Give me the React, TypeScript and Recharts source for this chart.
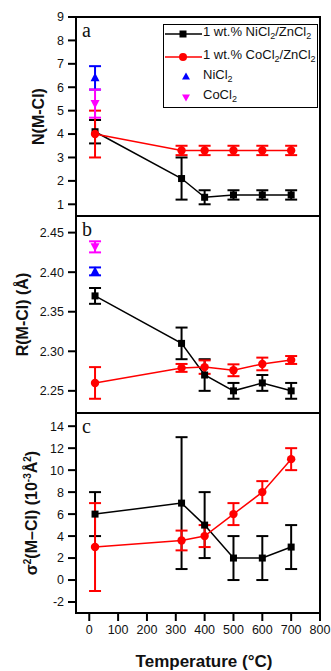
import React from "react";
import {
  ComposedChart,
  Line,
  Scatter,
  XAxis,
  YAxis,
  ErrorBar,
  ReferenceArea,
  Label,
  Legend,
} from "recharts";

// temperatures (°C) of the supported samples, reference salts sit at room temp
const temps = [20, 320, 400, 500, 600, 700];
const refTemp = [20];
const xTicks = [0, 100, 200, 300, 400, 500, 600, 700, 800];

// panel a: coordination number
const nNi = [4.1, 2.1, 1.3, 1.4, 1.4, 1.4];
const nNiErr = [0.5, 0.9, 0.3, 0.2, 0.2, 0.2];
const nCo = [4.0, 3.3, 3.3, 3.3, 3.3, 3.3];
const nCoErr = [1.0, 0.2, 0.2, 0.2, 0.2, 0.2];
const nNiCl2 = [6.4];
const nNiCl2Err = [0.5];
const nCoCl2 = [5.3];
const nCoCl2Err = [0.6];
const nTicks = [1, 2, 3, 4, 5, 6, 7, 8, 9];

// panel b: bond distance
const rNi = [2.37, 2.31, 2.27, 2.25, 2.26, 2.25];
const rNiErr = [0.01, 0.02, 0.02, 0.01, 0.01, 0.01];
const rCo = [2.26, 2.279, 2.28, 2.276, 2.284, 2.289];
const rCoErr = [0.02, 0.005, 0.0085, 0.0075, 0.008, 0.005];
const rNiCl2 = [2.401];
const rNiCl2Err = [0.005];
const rCoCl2 = [2.432];
const rCoCl2Err = [0.007];
const rTicks = [2.25, 2.3, 2.35, 2.4, 2.45];

// panel c: Debye-Waller factor
const sNi = [6, 7, 5, 2, 2, 3];
const sNiErr = [2, 6, 3, 2, 2, 2];
const sCo = [3, 3.6, 4, 6, 8, 11];
const sCoErr = [4, 0.9, 1, 1, 1, 1];
const sTicks = [-2, 0, 2, 4, 6, 8, 10, 12, 14];

const xDomain: [number, number] = [-46, 800];

const rows = (ni: number[], niE: number[], co: number[], coE: number[]) =>
  temps.map((t, i) => ({ t, ni: ni[i], niErr: niE[i], co: co[i], coErr: coE[i] }));

const refRows = (v: number[], e: number[]) => refTemp.map((t, i) => ({ t, v: v[i], e: e[i] }));

const FONT = "'Liberation Sans', Arial, sans-serif";
const tickStyle = { fill: "#111", fontSize: 12.5, fontFamily: FONT };

const squareDot = (p: any) => (
  <rect key={`sq-${p.index}`} x={p.cx - 3.5} y={p.cy - 3.5} width={7} height={7} fill="#000" />
);
const circleDot = (p: any) => <circle key={`ci-${p.index}`} cx={p.cx} cy={p.cy} r={4.2} fill="#f00" />;
const triUp = (p: any) => (
  <path d={`M${p.cx},${p.cy - 5} L${p.cx + 4.5},${p.cy + 3.5} L${p.cx - 4.5},${p.cy + 3.5} Z`} fill="#00f" />
);
const triDown = (p: any) => (
  <path d={`M${p.cx},${p.cy + 5} L${p.cx + 4.5},${p.cy - 3.5} L${p.cx - 4.5},${p.cy - 3.5} Z`} fill="#f0f" />
);

const yTitle = (x: number, children: React.ReactNode) => (props: any) => {
  const vb = props.viewBox || {};
  const cy = (vb.y ?? 0) + (vb.height ?? 0) / 2;
  return (
    <text
      x={x}
      y={cy}
      transform={`rotate(-90 ${x} ${cy})`}
      textAnchor="middle"
      fontFamily={FONT}
      fontWeight="bold"
      fontSize={16}
      fill="#111"
    >
      {children}
    </text>
  );
};

const Sub = ({ children }: { children: React.ReactNode }) => (
  <sub style={{ fontSize: 9, verticalAlign: "-3px" }}>{children}</sub>
);

const LegendBox = () => {
  const items = [
    { key: "ni", label: ["1 wt.% NiCl", "/ZnCl"], icon: "sq", top: -1 },
    { key: "co", label: ["1 wt.% CoCl", "/ZnCl"], icon: "ci", top: 22 },
    { key: "nicl2", label: ["NiCl"], icon: "up", top: 42 },
    { key: "cocl2", label: ["CoCl"], icon: "down", top: 62 },
  ];
  return (
    <div
      style={{
        position: "relative",
        border: "1px solid #000",
        background: "#fff",
        width: 155,
        height: 84,
        boxSizing: "border-box",
        fontFamily: FONT,
        fontSize: 13,
        color: "#111",
      }}
    >
      {items.map((it) => (
        <div
          key={it.key}
          style={{
            position: "absolute",
            left: 0,
            top: it.top,
            display: "flex",
            alignItems: "center",
            height: 20,
            lineHeight: "20px",
          }}
        >
          <svg width={39} height={14} style={{ flex: "none" }}>
            {it.icon === "sq" && (
              <>
                <line x1={1} y1={7} x2={38} y2={7} stroke="#000" strokeWidth={1.5} />
                <rect x={15.5} y={3.5} width={7} height={7} fill="#000" />
              </>
            )}
            {it.icon === "ci" && (
              <>
                <line x1={1} y1={7} x2={38} y2={7} stroke="#f00" strokeWidth={1.5} />
                <circle cx={19} cy={7} r={4} fill="#f00" />
              </>
            )}
            {it.icon === "up" && <path d="M22,2.5 L26,9.5 L18,9.5 Z" fill="#00f" />}
            {it.icon === "down" && <path d="M22,11.5 L26,4.5 L18,4.5 Z" fill="#f0f" />}
          </svg>
          <span style={{ whiteSpace: "nowrap" }}>
            {it.label[0]}
            <Sub>2</Sub>
            {it.label[1] !== undefined && (
              <>
                {it.label[1]}
                <Sub>2</Sub>
              </>
            )}
          </span>
        </div>
      ))}
    </div>
  );
};

type PanelProps = {
  top: number;
  height: number;
  margin: { top: number; right: number; bottom: number; left: number };
  data: ReturnType<typeof rows>;
  niRef: ReturnType<typeof refRows>;
  coRef?: ReturnType<typeof refRows>;
  yDomain: [number, number];
  yTicks: number[];
  yFormat?: (v: number) => string;
  title: (props: any) => React.ReactElement;
  letter: string;
  showX?: boolean;
  legend?: boolean;
};

const Panel = (p: PanelProps) => (
  <div style={{ position: "absolute", left: 0, top: p.top }}>
    <ComposedChart width={331} height={p.height} data={p.data} margin={p.margin}>
      <XAxis
        type="number"
        dataKey="t"
        domain={xDomain}
        ticks={xTicks}
        allowDataOverflow
        hide={!p.showX}
        height={58}
        tickSize={8}
        tickMargin={4}
        tick={tickStyle}
        stroke="#000"
        strokeWidth={2}
      >
        {p.showX && (
          <Label
            content={() => (
              <text
                x={204}
                y={p.height - 4}
                textAnchor="middle"
                fontFamily={FONT}
                fontWeight="bold"
                fontSize={17}
                fill="#111"
              >
                Temperature (°C)
              </text>
            )}
          />
        )}
      </XAxis>
      <YAxis
        type="number"
        domain={p.yDomain}
        ticks={p.yTicks}
        allowDataOverflow
        width={76}
        tickSize={8}
        tickMargin={4}
        tick={tickStyle}
        tickFormatter={p.yFormat}
        stroke="#000"
        strokeWidth={2}
        label={{ content: p.title }}
      />
      <ReferenceArea
        x1={xDomain[0]}
        x2={xDomain[1]}
        y1={p.yDomain[0]}
        y2={p.yDomain[1]}
        fill="none"
        stroke="#000"
        strokeWidth={2}
        ifOverflow="visible"
      >
        <Label
          value={p.letter}
          position="insideTopLeft"
          offset={6}
          style={{ fontFamily: "'Liberation Serif', 'Times New Roman', serif", fontSize: 20, fill: "#111" }}
        />
      </ReferenceArea>
      <Line
        dataKey="ni"
        stroke="#000"
        strokeWidth={1.5}
        dot={squareDot}
        activeDot={false}
        isAnimationActive={false}
      >
        <ErrorBar dataKey="niErr" width={6} stroke="#000" strokeWidth={2} direction="y" />
      </Line>
      <Line
        dataKey="co"
        stroke="#f00"
        strokeWidth={1.5}
        dot={circleDot}
        activeDot={false}
        isAnimationActive={false}
      >
        <ErrorBar dataKey="coErr" width={6} stroke="#f00" strokeWidth={2} direction="y" />
      </Line>
      <Scatter data={p.niRef} dataKey="v" shape={triUp} isAnimationActive={false}>
        <ErrorBar dataKey="e" width={6} stroke="#00f" strokeWidth={2} direction="y" />
      </Scatter>
      {p.coRef && (
        <Scatter data={p.coRef} dataKey="v" shape={triDown} isAnimationActive={false}>
          <ErrorBar dataKey="e" width={6} stroke="#f0f" strokeWidth={2} direction="y" />
        </Scatter>
      )}
      {p.legend && (
        <Legend
          layout="vertical"
          align="center"
          verticalAlign="middle"
          wrapperStyle={{ position: "absolute", top: 24, left: 163, width: 155 }}
          content={() => <LegendBox />}
        />
      )}
    </ComposedChart>
  </div>
);

export default function App() {
  return (
    <div style={{ position: "absolute", left: 0, top: 0, width: 331, height: 671, background: "#fff", overflow: "hidden" }}>
      <Panel
        top={0}
        height={230}
        margin={{ top: 17, right: 11, bottom: 14, left: 0 }}
        data={rows(nNi, nNiErr, nCo, nCoErr)}
        niRef={refRows(nNiCl2, nNiCl2Err)}
        coRef={refRows(nCoCl2, nCoCl2Err)}
        yDomain={[0.5, 9]}
        yTicks={nTicks}
        title={yTitle(44, "N(M-Cl)")}
        letter="a"
        legend
      />
      <Panel
        top={200}
        height={230}
        margin={{ top: 16, right: 11, bottom: 17, left: 0 }}
        data={rows(rNi, rNiErr, rCo, rCoErr)}
        niRef={refRows(rNiCl2, rNiCl2Err)}
        coRef={refRows(rCoCl2, rCoCl2Err)}
        yDomain={[2.222, 2.471]}
        yTicks={rTicks}
        yFormat={(v: number) => v.toFixed(2)}
        title={yTitle(28, "R(M-Cl) (Å)")}
        letter="b"
      />
      <Panel
        top={400}
        height={271}
        margin={{ top: 13, right: 11, bottom: 0, left: 0 }}
        data={rows(sNi, sNiErr, sCo, sCoErr)}
        niRef={[]}
        yDomain={[-3, 15.2]}
        yTicks={sTicks}
        title={yTitle(
          37,
          <>
            σ<tspan dy={-6} fontSize={10}>2</tspan>
            <tspan dy={6}>(M–Cl) (10</tspan>
            <tspan dy={-6} fontSize={10}>-3</tspan>
            <tspan dy={6}>Å</tspan>
            <tspan dy={-6} fontSize={10}>2</tspan>
            <tspan dy={6}>)</tspan>
          </>
        )}
        letter="c"
        showX
      />
    </div>
  );
}
